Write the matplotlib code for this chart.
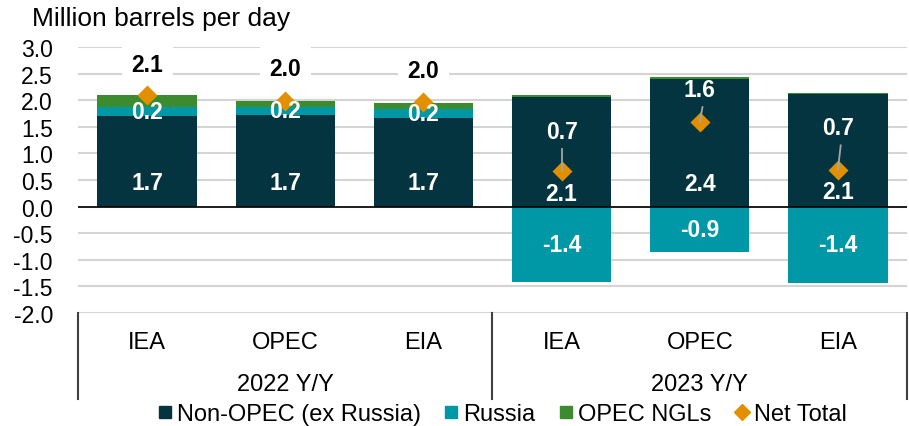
import matplotlib
matplotlib.use('Agg')
import matplotlib.pyplot as plt
from matplotlib.lines import Line2D

plt.rcParams['font.family'] = ['Liberation Sans', 'DejaVu Sans']

# data (million barrels per day)
sources = ['IEA', 'OPEC', 'EIA', 'IEA', 'OPEC', 'EIA']
periods = ['2022 Y/Y', '2023 Y/Y']
non_opec = [1.70, 1.72, 1.66, 2.06, 2.39, 2.11]
russia = [0.18, 0.16, 0.17, -1.42, -0.86, -1.43]
opec_ngls = [0.21, 0.10, 0.11, 0.04, 0.04, 0.02]
net_total = [2.09, 1.98, 1.96, 0.67, 1.59, 0.69]

# where the labels sit
non_opec_label_y = [0.46, 0.46, 0.46, 0.24, 0.44, 0.28]
net_label_y = [2.68, 2.60, 2.55, 1.41, 2.20, 1.48]

c_dark = '#03343F'
c_teal = '#0098A6'
c_green = '#3D8B2F'
c_orange = '#E39000'

fig = plt.figure(figsize=(9.09, 4.27), dpi=100)
ax = fig.add_axes([78/909, 1-314/427, 829/909, 266/427])

x = list(range(len(sources)))
w = 0.72

ngl_bottom = [n + max(r, 0) for n, r in zip(non_opec, russia)]

ax.bar(x, non_opec, w, color=c_dark, zorder=2)
ax.bar(x, russia, w, bottom=[n if r > 0 else 0 for n, r in zip(non_opec, russia)], color=c_teal, zorder=2)
ax.bar(x, opec_ngls, w, bottom=ngl_bottom, color=c_green, zorder=2)
ax.plot(x, net_total, 'D', color=c_orange, ms=10, mec='none', zorder=4)

ax.axhline(0, color='black', lw=1.2, zorder=3)

# data labels
for i in x:
    ax.text(i, non_opec_label_y[i], f'{non_opec[i]:.1f}', ha='center', va='center',
            color='white', fontsize=16.5, fontweight='bold', zorder=5)
    rb = non_opec[i] if russia[i] > 0 else 0
    ax.text(i, rb + russia[i]/2, f'{russia[i]:.1f}', ha='center', va='center',
            color='white', fontsize=16.5, fontweight='bold', zorder=5)
    if i < 3:
        ax.text(i, net_label_y[i], f'{net_total[i]:.1f}', ha='center', va='center',
                color='black', fontsize=16.5, fontweight='bold', zorder=5,
                bbox=dict(fc='white', ec='none', pad=7))
    else:
        ax.text(i, net_label_y[i], f'{net_total[i]:.1f}', ha='center', va='center',
                color='white', fontsize=16.5, fontweight='bold', zorder=5)
        dx = 0 if i == 3 else 0.02
        ax.plot([i + dx, i], [net_label_y[i] - 0.33, net_total[i]], color='#a6a6a6', lw=1.3, zorder=5)

ax.set_xlim(-0.5, 5.5)
ax.set_ylim(-2, 3)
ax.set_yticks([-2, -1.5, -1, -0.5, 0, 0.5, 1, 1.5, 2, 2.5, 3])
ax.set_yticklabels([f'{t:.1f}' for t in ax.get_yticks()], fontsize=16.5)
ax.tick_params(axis='y', length=0, pad=18)
ax.set_xticks([])
ax.grid(axis='y', color='#d4d4d4', lw=1.5, zorder=0)
ax.set_axisbelow(True)
for s in ax.spines.values():
    s.set_visible(False)

# two-level category axis
tr = ax.get_xaxis_transform()
for i, s in enumerate(sources):
    ax.text(i, -0.109, s, transform=tr, ha='center', va='center', fontsize=17)
for j, p in enumerate(periods):
    ax.text(j*3 + 1, -0.267, p, transform=tr, ha='center', va='center', fontsize=17)
for xb in [-0.5, 2.5, 5.5]:
    ax.plot([xb, xb], [0, -0.323], transform=tr, color='#404040', lw=1.5, clip_on=False)

fig.text(32/909, 1-19/427, 'Million barrels per day', fontsize=19, va='center', ha='left')

handles = [
    Line2D([], [], ls='none', marker='s', ms=9, color=c_dark, label='Non-OPEC (ex Russia)'),
    Line2D([], [], ls='none', marker='s', ms=9, color=c_teal, label='Russia'),
    Line2D([], [], ls='none', marker='s', ms=9, color=c_green, label='OPEC NGLs'),
    Line2D([], [], ls='none', marker='D', ms=8, color=c_orange, label='Net Total'),
]
fig.legend(handles=handles, loc='center', bbox_to_anchor=(502/909, 1-415/427), ncol=4,
           frameon=False, fontsize=17, handlelength=0.6, handletextpad=0.2,
           columnspacing=1.0, borderaxespad=0)

fig.savefig('out.png', dpi=100)
